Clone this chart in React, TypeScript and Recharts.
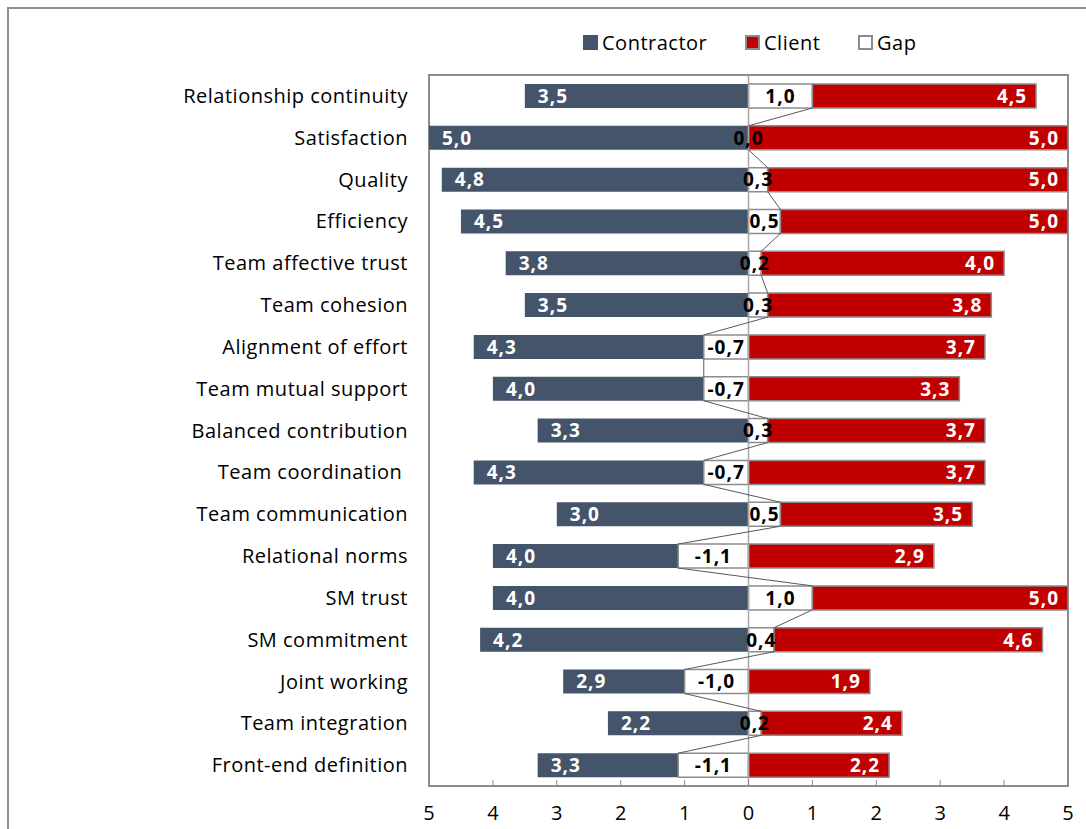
import {
  Bar,
  ComposedChart,
  LabelList,
  ReferenceArea,
  ReferenceLine,
  XAxis,
  YAxis,
} from "recharts";

// Butterfly chart: contractor scores to the left, client scores to the right,
// the white "gap" bar sits between them from 0 to (client - contractor).

const CATEGORIES = [
  "Relationship continuity",
  "Satisfaction",
  "Quality",
  "Efficiency",
  "Team affective trust",
  "Team cohesion",
  "Alignment of effort",
  "Team mutual support",
  "Balanced contribution",
  "Team coordination\u00A0",
  "Team communication",
  "Relational norms",
  "SM trust",
  "SM commitment",
  "Joint working",
  "Team integration",
  "Front-end definition",
];
const CONTRACTOR = [3.5, 5.0, 4.8, 4.5, 3.8, 3.5, 4.3, 4.0, 3.3, 4.3, 3.0, 4.0, 4.0, 4.2, 2.9, 2.2, 3.3];
const CLIENT = [4.5, 5.0, 5.0, 5.0, 4.0, 3.8, 3.7, 3.3, 3.7, 3.7, 3.5, 2.9, 5.0, 4.6, 1.9, 2.4, 2.2];
const GAP = [1.0, 0.0, 0.3, 0.5, 0.2, 0.3, -0.7, -0.7, 0.3, -0.7, 0.5, -1.1, 1.0, 0.4, -1.0, 0.2, -1.1];
const X_TICKS = [-5, -4, -3, -2, -1, 0, 1, 2, 3, 4, 5];

const W = 1086;
const H = 829;
const PLOT_LEFT = 429;
const PLOT_RIGHT = 1068;
const PLOT_TOP = 75;
const PLOT_BOTTOM = 786;
const BAR = 24;
const BAND = (PLOT_BOTTOM - PLOT_TOP) / CATEGORIES.length;

const FONT = "'Open Sans', Lato, sans-serif";
const FS = 20;
const NAVY = "#44546A";
const RED = "#C00000";
const EDGE = "#8C8C8C";

const fmt = (v: number) => v.toFixed(1).replace(".", ",");
const xPix = (v: number) => PLOT_LEFT + ((v + 5) / 10) * (PLOT_RIGHT - PLOT_LEFT);

const data = CATEGORIES.map((name, i) => ({
  name,
  idx: i,
  contractor: [-CONTRACTOR[i], Math.min(GAP[i], 0)],
  gap: GAP[i] >= 0 ? [0, GAP[i]] : [GAP[i], 0],
  client: [Math.max(GAP[i], 0), CLIENT[i]],
  cLabel: fmt(CONTRACTOR[i]),
  kLabel: fmt(CLIENT[i]),
}));

const box = (p: any) => p.viewBox ?? p;
const valueText = { fontSize: 19, fontWeight: 700, fontFamily: FONT, letterSpacing: 1 };

const ContractorLabel = (p: any) => {
  const { x, y, height } = box(p);
  return (
    <text x={x + 13} y={y + height / 2} dy="0.36em" fill="#fff" {...valueText}>
      {p.value}
    </text>
  );
};

const ClientLabel = (p: any) => {
  const { x, y, width, height } = box(p);
  return (
    <text x={x + width - 9} y={y + height / 2} dy="0.36em" textAnchor="end" fill="#fff" {...valueText}>
      {p.value}
    </text>
  );
};

// gap value label plus Excel-style series line (bottom of this gap bar to the
// top of the next one); hung on the client bar because a 0,0 gap has no width
const GapExtras = (p: any) => {
  const i = Number(p.value);
  const { y, height } = box(p);
  const g = GAP[i];
  return (
    <g>
      {i < GAP.length - 1 && (
        <line
          x1={xPix(g)}
          y1={y + height}
          x2={xPix(GAP[i + 1])}
          y2={y + BAND}
          stroke="#595959"
          strokeWidth={1}
        />
      )}
      <text x={xPix(g / 2)} y={y + height / 2} dy="0.36em" textAnchor="middle" fill="#000" {...valueText}>
        {fmt(g)}
      </text>
    </g>
  );
};

const XTick = (p: any) => {
  const v = p.payload.value as number;
  return (
    <g>
      <line x1={p.x} x2={p.x} y1={PLOT_BOTTOM} y2={PLOT_BOTTOM - 6} stroke={EDGE} strokeWidth={1} />
      <text x={p.x} y={820} textAnchor="middle" fill="#000" fontSize={FS} fontFamily={FONT}>
        {Math.abs(v)}
      </text>
    </g>
  );
};

const LEGEND = [
  { label: "Contractor", fill: NAVY, border: NAVY, left: 583 },
  { label: "Client", fill: RED, border: EDGE, left: 745 },
  { label: "Gap", fill: "#fff", border: EDGE, left: 858 },
];

export default function App() {
  return (
    <div style={{ position: "relative", width: W, height: H, fontFamily: FONT }}>
      <style>{"body{margin:0;overflow:hidden;background:#fff}"}</style>
      <div
        style={{
          position: "absolute",
          left: 7,
          top: 7,
          width: W,
          height: H,
          borderTop: "2px solid #8F8F8F",
          borderLeft: "2px solid #8F8F8F",
        }}
      />
      {LEGEND.map((l) => (
        <div
          key={l.label}
          style={{
            position: "absolute",
            top: 29,
            left: l.left,
            display: "flex",
            alignItems: "center",
            fontSize: FS,
            letterSpacing: 0.5,
            color: "#000",
            whiteSpace: "nowrap",
          }}
        >
          <span
            style={{
              display: "inline-block",
              width: 11,
              height: 11,
              background: l.fill,
              border: `2px solid ${l.border}`,
              marginRight: 4,
            }}
          />
          <span>{l.label}</span>
        </div>
      ))}
      <div style={{ position: "absolute", left: 0, top: 0 }}>
        <ComposedChart
          width={W}
          height={H}
          data={data}
          layout="vertical"
          barSize={BAR}
          barGap={-BAR}
          margin={{ top: PLOT_TOP, right: W - PLOT_RIGHT, bottom: 0, left: 0 }}
        >
          <XAxis
            type="number"
            domain={[-5, 5]}
            ticks={X_TICKS}
            interval={0}
            height={H - PLOT_BOTTOM}
            axisLine={false}
            tickLine={false}
            tick={<XTick />}
          />
          <YAxis
            type="category"
            dataKey="name"
            width={PLOT_LEFT}
            axisLine={false}
            tickLine={false}
            interval={0}
            tickMargin={15}
            tick={{ fill: "#000", fontSize: FS, fontFamily: FONT, letterSpacing: 0.5 }}
          />
          <ReferenceLine x={0} stroke="#A6A6A6" strokeWidth={1.5} />
          <Bar dataKey="contractor" fill={NAVY} isAnimationActive={false}>
            <LabelList dataKey="cLabel" content={<ContractorLabel />} />
          </Bar>
          <Bar dataKey="gap" fill="#fff" stroke={EDGE} strokeWidth={1.5} isAnimationActive={false} />
          <Bar dataKey="client" fill={RED} stroke={EDGE} strokeWidth={1.5} isAnimationActive={false}>
            <LabelList dataKey="kLabel" content={<ClientLabel />} />
            <LabelList dataKey="idx" content={<GapExtras />} />
          </Bar>
          <ReferenceArea x1={-5} x2={5} fill="none" stroke={EDGE} strokeWidth={2} ifOverflow="visible" />
        </ComposedChart>
      </div>
    </div>
  );
}
